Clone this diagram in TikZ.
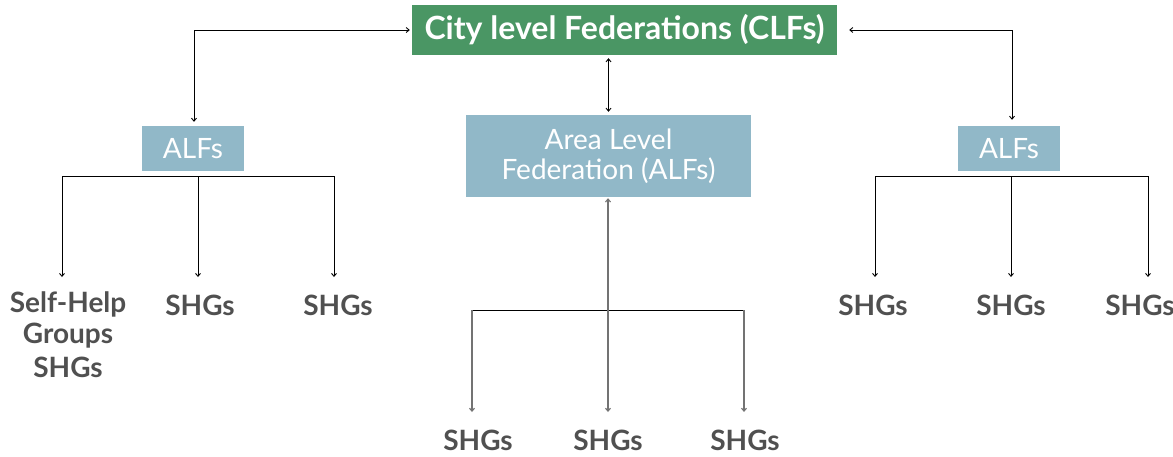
\documentclass[tikz,border=0pt]{standalone}
\usepackage{fontspec}
\setmainfont{Lato}
\usetikzlibrary{arrows.meta}
\definecolor{clfgreen}{HTML}{4A9664}
\definecolor{alfblue}{HTML}{91B8C8}
\definecolor{shgtext}{HTML}{505050}
\begin{document}
\begin{tikzpicture}[x=1pt,y=-1pt,
  link/.style={line width=0.9pt,draw=black},
  biarrow/.style={link,{Straight Barb[length=3pt,width=5pt]}-{Straight Barb[length=3pt,width=5pt]}},
  onearrow/.style={link,-{Straight Barb[length=3pt,width=5pt]}},
  greyline/.style={draw=black!55,line width=1.1pt},
  clfbox/.style={fill=clfgreen,text=white,inner sep=0pt,minimum width=425pt,minimum height=50pt,
    font=\fontsize{32}{36}\selectfont\bfseries},
  alfbox/.style={fill=alfblue,text=white,inner sep=0pt,align=center,
    font=\fontsize{28}{30}\selectfont},
  shg/.style={text=shgtext,align=center,inner sep=0pt,font=\fontsize{28}{31}\selectfont\bfseries}]
\useasboundingbox (0,0) rectangle (1173,456);

% boxes
\node[clfbox] (clf) at (624.5,30) {City level Federations (CLFs)};
\node[alfbox,minimum width=102pt,minimum height=45pt] (alfL) at (193,148.5) {ALFs};
\node[alfbox,minimum width=285pt,minimum height=82pt] (alfM) at (608.5,156) {Area Level\\Federation (ALFs)};
\node[alfbox,minimum width=102pt,minimum height=45pt] (alfR) at (1009,148.5) {ALFs};

% bottom labels
\node[shg] (sL1) at (68,335) {Self-Help\\Groups\\[3pt]SHGs};
\node[shg] (sL2) at (200,305) {SHGs};
\node[shg] (sL3) at (338,305) {SHGs};
\node[shg] (sM1) at (478,440) {SHGs};
\node[shg] (sM2) at (608,440) {SHGs};
\node[shg] (sM3) at (745,440) {SHGs};
\node[shg] (sR1) at (873,305) {SHGs};
\node[shg] (sR2) at (1011,305) {SHGs};
\node[shg] (sR3) at (1140,305) {SHGs};

% links from the city level down to the area level
\draw[biarrow,shorten <=4pt,shorten >=2pt] ([xshift=1pt]alfL.north) |- (clf.west);
\draw[biarrow,shorten <=6pt,shorten >=12pt] ([xshift=3pt]alfR.north) |- (clf.east);
\draw[biarrow,shorten <=3pt,shorten >=3pt] (clf.south -| alfM.north) -- (alfM.north);

% left group
\coordinate (lbA) at (62,176);
\coordinate (lbB) at (198,176);
\coordinate (lbC) at (334,176);
\coordinate (ltA) at (62,277);
\coordinate (ltB) at (198,277);
\coordinate (ltC) at (334,277);
\draw[link] (lbA) -- (lbC);
\draw[onearrow] (lbA) -- (ltA);
\draw[onearrow] (lbB) -- (ltB);
\draw[onearrow] (lbC) -- (ltC);

% middle group
\coordinate (mbA) at (472,310);
\coordinate (mbC) at (744,310);
\coordinate (mtA) at (472,412);
\coordinate (mtB) at (608,412);
\coordinate (mtC) at (744,412);
\draw[link] (mbA) -- (mbC);
\draw[biarrow,greyline,shorten <=1pt] (alfM.south -| mtB) -- (mtB);
\draw[onearrow,greyline] (mbA) -- (mtA);
\draw[onearrow,greyline] (mbC) -- (mtC);

% right group
\coordinate (rbA) at (875,176);
\coordinate (rbB) at (1011,176);
\coordinate (rbC) at (1148,176);
\coordinate (rtA) at (875,277);
\coordinate (rtB) at (1011,277);
\coordinate (rtC) at (1148,277);
\draw[link] (rbA) -- (rbC);
\draw[onearrow] (rbA) -- (rtA);
\draw[onearrow] (rbB) -- (rtB);
\draw[onearrow] (rbC) -- (rtC);
\end{tikzpicture}
\end{document}
